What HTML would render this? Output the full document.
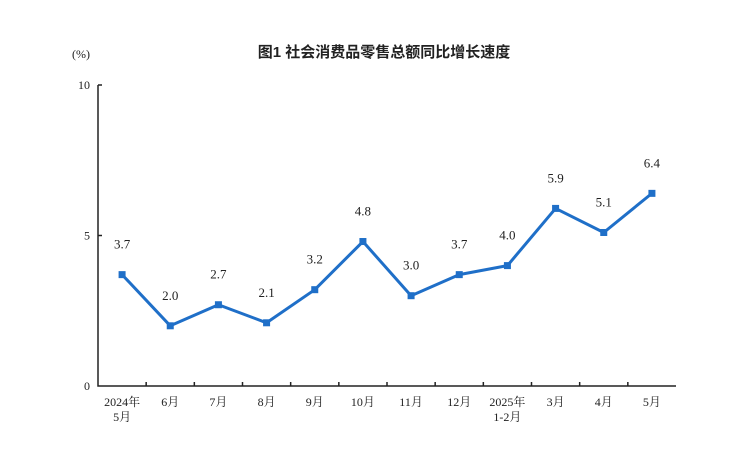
<!DOCTYPE html>
<html><head><meta charset="utf-8"><style>
body{margin:0;background:#fff;}
svg text{font-family:"Liberation Serif","Noto Serif CJK SC",serif;fill:#222;}
</style></head><body>
<svg width="747" height="450" xmlns="http://www.w3.org/2000/svg">
<text x="384" y="57" text-anchor="middle" font-size="15" font-weight="bold" style="font-family:'Liberation Sans','Noto Sans CJK SC',sans-serif">图1  社会消费品零售总额同比增长速度</text>
<text x="72" y="58" font-size="12">(%)</text>
<g id="axes"></g><g id="marks"></g>
</svg>
<script>
const categories=[["2024年","5月"],["6月"],["7月"],["8月"],["9月"],["10月"],["11月"],["12月"],["2025年","1-2月"],["3月"],["4月"],["5月"]];
const values=[3.7,2.0,2.7,2.1,3.2,4.8,3.0,3.7,4.0,5.9,5.1,6.4];
const yTicks=[0,5,10];
const NS="http://www.w3.org/2000/svg";
const x0=98,x1=676,y0=386,y10=85;
const bw=(x1-x0)/categories.length;
const X=i=>x0+bw*(i+0.5);
const Y=v=>y0-(y0-y10)*v/10;
function mk(t,a,p){const e=document.createElementNS(NS,t);for(const k in a)e.setAttribute(k,a[k]);p.appendChild(e);return e;}
const ax=document.getElementById('axes'),mg=document.getElementById('marks');
let l=mk('path',{d:`M${x0},${Y(10)}H${x0+4}M${x0},${Y(10)}V${y0}H${x1}`,stroke:'#222','stroke-width':1.5,fill:'none'},ax);


yTicks.forEach(v=>{
 const t=mk('text',{x:x0-8,y:Y(v)+4,'text-anchor':'end','font-size':12},ax);t.textContent=v;
 
 
 if(v>0&&v<10){const k=mk('line',{x1:x0,x2:x0+4,y1:Y(v),y2:Y(v),stroke:'#222','stroke-width':1.5},ax);
 
 }
});
categories.forEach((c,i)=>{
 if(i>0){const k=mk('line',{x1:x0+bw*i,x2:x0+bw*i,y1:y0,y2:y0-4,stroke:'#222','stroke-width':1.5},ax);
 
 }
 c.forEach((s,j)=>{const t=mk('text',{x:X(i),y:y0+20+j*15,'text-anchor':'middle','font-size':12},ax);t.textContent=s;
 
 });
});
const ln=mk('polyline',{points:values.map((v,i)=>X(i)+','+Y(v)).join(' '),fill:'none',stroke:'#1f6fc8','stroke-width':3,'stroke-linejoin':'round'},mg);


values.forEach((v,i)=>{
 const r=mk('rect',{x:X(i)-3.5,y:Y(v)-3.5,width:7,height:7,fill:'#1f6fc8'},mg);
 
 
 const t=mk('text',{x:X(i),y:Y(v)-26,'text-anchor':'middle','font-size':13},mg);t.textContent=v.toFixed(1);
 
 
});
</script>
</body></html>
